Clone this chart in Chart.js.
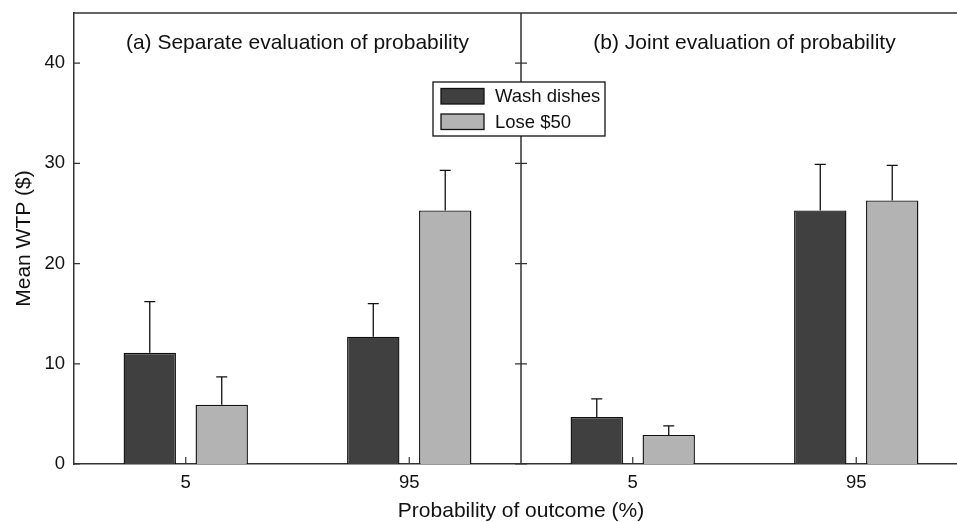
<!DOCTYPE html>
<html>
<head>
<meta charset="utf-8">
<script src="https://cdn.jsdelivr.net/npm/chart.js@4.4.1/dist/chart.umd.min.js"></script>
<style>
  html, body { margin: 0; padding: 0; background: #fff; overflow: hidden; }
  #wrap { width: 970px; height: 522px; }
</style>
</head>
<body>
<div id="wrap"><canvas id="c" width="970" height="522"></canvas></div>
<script>
// probability of outcome (%), two panels side by side
const categories = ['5', '95', '5', '95'];
const panelTitles = ['(a) Separate evaluation of probability', '(b) Joint evaluation of probability'];
const washDishes = [11.1, 12.7, 4.7, 25.3];
const washDishesTop = [16.2, 16.0, 6.5, 29.9]; // top of error bar
const lose50 = [5.9, 25.3, 2.9, 26.3];
const lose50Top = [8.7, 29.3, 3.8, 29.8];
const yTicks = [0, 10, 20, 30, 40];
const yMax = 45;

const FONT = '"Liberation Sans", Arial, sans-serif';
const AXIS = '#333333';
const errTops = [washDishesTop, lose50Top];

const panelPlugin = {
    id: 'panels',
    afterDatasetsDraw(chart) {
        const ctx = chart.ctx;
        const area = chart.chartArea;
        const xs = chart.scales.x;
        const ys = chart.scales.y;
        const divX = (xs.getPixelForValue(1) + xs.getPixelForValue(2)) / 2;

        ctx.save();
        // error bars (upper only)
        ctx.strokeStyle = '#111';
        ctx.lineWidth = 1.3;
        chart.data.datasets.forEach((ds, i) => {
            const meta = chart.getDatasetMeta(i);
            meta.data.forEach((bar, j) => {
                const y0 = ys.getPixelForValue(ds.data[j]);
                const y1 = ys.getPixelForValue(errTops[i][j]);
                ctx.beginPath();
                ctx.moveTo(bar.x, y0);
                ctx.lineTo(bar.x, y1);
                ctx.moveTo(bar.x - 5.5, y1);
                ctx.lineTo(bar.x + 5.5, y1);
                ctx.stroke();
            });
        });

        // frame top + divider
        ctx.strokeStyle = AXIS;
        ctx.lineWidth = 1.5;
        ctx.beginPath();
        ctx.moveTo(area.left, area.top);
        ctx.lineTo(area.right, area.top);
        ctx.moveTo(divX, area.top);
        ctx.lineTo(divX, area.bottom);
        ctx.stroke();

        // inward ticks
        ctx.lineWidth = 1.2;
        ctx.beginPath();
        yTicks.forEach(v => {
            const py = ys.getPixelForValue(v);
            ctx.moveTo(area.left, py);
            ctx.lineTo(area.left + 6, py);
            ctx.moveTo(divX - 6, py);
            ctx.lineTo(divX + 6, py);
        });
        categories.forEach((c, i) => {
            const px = xs.getPixelForValue(i);
            ctx.moveTo(px, area.bottom);
            ctx.lineTo(px, area.bottom - 7);
        });
        ctx.stroke();

        // panel titles
        ctx.fillStyle = '#111';
        ctx.font = '21px ' + FONT;
        ctx.textAlign = 'center';
        ctx.textBaseline = 'middle';
        ctx.fillText(panelTitles[0], (area.left + divX) / 2, area.top + 30);
        ctx.fillText(panelTitles[1], (divX + area.right) / 2, area.top + 30);

        // legend box
        const bx = divX - 88, by = area.top + 69, bw = 172, bh = 54;
        ctx.fillStyle = '#fff';
        ctx.fillRect(bx, by, bw, bh);
        ctx.strokeStyle = '#111';
        ctx.lineWidth = 1.3;
        ctx.strokeRect(bx, by, bw, bh);
        ctx.font = '18.5px ' + FONT;
        ctx.textAlign = 'left';
        chart.data.datasets.forEach((ds, i) => {
            const sy = by + 6.5 + i * 25.5;
            ctx.fillStyle = ds.backgroundColor;
            ctx.fillRect(bx + 8, sy, 43, 15.5);
            ctx.strokeRect(bx + 8, sy, 43, 15.5);
            ctx.fillStyle = '#111';
            ctx.fillText(ds.label, bx + 62, sy + 8.5);
        });
        ctx.restore();
    }
};

new Chart(document.getElementById('c'), {
    type: 'bar',
    data: {
        labels: categories,
        datasets: [
            { label: 'Wash dishes', data: washDishes, backgroundColor: '#404040', borderColor: '#111', borderWidth: 1.4 },
            { label: 'Lose $50', data: lose50, backgroundColor: '#b3b3b3', borderColor: '#111', borderWidth: 1.4 }
        ]
    },
    options: {
        responsive: false,
        animation: false,
        categoryPercentage: 0.644,
        barPercentage: 0.728,
        layout: { padding: { top: 13, right: 2, left: 0, bottom: 0 } },
        plugins: {
            legend: { display: false },
            tooltip: { enabled: false }
        },
        scales: {
            x: {
                offset: true,
                grid: { display: false, drawTicks: false },
                border: { display: true, color: AXIS, width: 1.5 },
                ticks: { color: '#111', font: { family: FONT, size: 18.5 }, padding: 8 },
                title: { display: true, text: 'Probability of outcome (%)', color: '#111',
                         font: { family: FONT, size: 21, lineHeight: 1 }, padding: 0 },
                afterFit: s => { s.height = 58; s.paddingLeft = 0; s.paddingRight = 0; }
            },
            y: {
                min: 0,
                max: yMax,
                grid: { display: false, drawTicks: false },
                border: { display: true, color: AXIS, width: 1.5 },
                ticks: { color: '#111', font: { family: FONT, size: 18.5 }, padding: 9 },
                afterBuildTicks: s => { s.ticks = yTicks.map(v => ({ value: v })); },
                title: { display: true, text: 'Mean WTP ($)', color: '#111',
                         font: { family: FONT, size: 21, lineHeight: 1 }, padding: { top: 14 } },
                afterFit: s => { s.width = 74; s.paddingTop = 0; s.paddingBottom = 0; }
            }
        }
    },
    plugins: [panelPlugin]
});
</script>
</body>
</html>
